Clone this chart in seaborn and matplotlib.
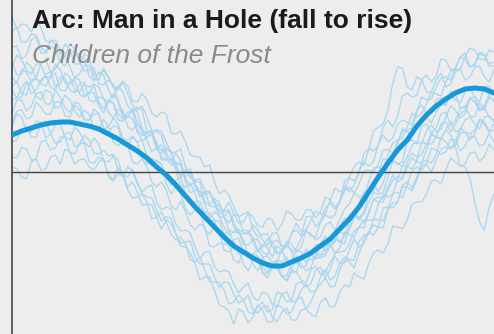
import numpy as np
import pandas as pd
import matplotlib
matplotlib.use("Agg")
import matplotlib.pyplot as plt
import seaborn as sns

title = "Arc: Man in a Hole (fall to rise)"
subtitle = "Children of the Frost"

# narrative position (percent of text)
arc_positions = list(range(0, 101, 2))
story_positions = list(range(0, 101))

# smoothed sentiment arc
arc_mean = [0.37, 0.41, 0.44, 0.47, 0.49, 0.50, 0.50, 0.48, 0.46, 0.43, 0.38,
            0.33, 0.27, 0.21, 0.14, 0.05, -0.03, -0.13, -0.24, -0.35, -0.45,
            -0.55, -0.65, -0.74, -0.80, -0.86, -0.91, -0.94, -0.94, -0.90, -0.86,
            -0.81, -0.74, -0.67, -0.57, -0.47, -0.35, -0.20, -0.05, 0.09, 0.22,
            0.32, 0.46, 0.57, 0.66, 0.73, 0.79, 0.83, 0.84, 0.83, 0.79]

# sentiment trajectories of the individual stories
story_a = [1.25, 1.26, 1.13, 1.17, 1.32, 1.36, 1.19, 1.19, 1.26, 1.23, 1.10, 1.06, 1.19, 1.21, 1.16, 1.14, 0.96, 0.91, 1.00, 0.97, 0.82, 0.74, 0.86, 0.80, 0.66, 0.61, 0.65, 0.62, 0.41, 0.38, 0.41, 0.37, 0.19, 0.11, 0.19, 0.11, -0.07, -0.14, -0.09, -0.10, -0.30, -0.33, -0.27, -0.30, -0.45, -0.51, -0.42, -0.44, -0.61, -0.62, -0.53, -0.58, -0.68, -0.74, -0.61, -0.61, -0.74, -0.74, -0.61, -0.58, -0.64, -0.45, -0.44, -0.55, -0.49, -0.36, -0.31, -0.37, -0.31, -0.09, -0.06, -0.09, -0.02, 0.18, 0.24, 0.21, 0.26, 0.45, 0.52, 0.45, 0.56, 0.76, 0.79, 0.75, 0.77, 0.92, 0.97, 0.90, 0.96, 1.13, 1.12, 1.02, 1.03, 1.15, 1.19, 1.05, 1.07, 1.18, 1.16, 1.06, 1.06]
story_b = [1.55, 1.43, 1.48, 1.47, 1.40, 1.51, 1.45, 1.31, 1.30, 1.32, 1.22, 1.15, 1.28, 1.23, 1.10, 1.01, 1.02, 1.04, 0.88, 0.87, 0.92, 0.88, 0.70, 0.55, 0.55, 0.63, 0.60, 0.43, 0.38, 0.42, 0.25, 0.15, 0.12, 0.13, 0.02, -0.14, -0.15, -0.11, -0.22, -0.36, -0.40, -0.41, -0.48, -0.64, -0.62, -0.59, -0.70, -0.82, -0.82, -0.80, -0.88, -0.85, -1.00, -1.06, -0.95, -0.96, -1.05, -1.08, -0.98, -0.85, -0.92, -0.99, -0.96, -0.82, -0.82, -0.83, -0.75, -0.67, -0.70, -0.72, -0.55, -0.44, -0.48, -0.42, -0.30, -0.21, -0.22, -0.21, -0.05, 0.11, 0.08, 0.06, 0.15, 0.27, 0.30, 0.28, 0.42, 0.47, 0.40, 0.43, 0.55, 0.66, 0.62, 0.54, 0.58, 0.74, 0.70, 0.64, 0.66, 0.74, 0.72]
story_c = [0.95, 0.89, 1.02, 1.00, 0.90, 0.94, 1.08, 1.13, 1.00, 1.03, 1.12, 1.16, 1.05, 0.94, 0.98, 1.07, 1.06, 0.93, 0.92, 1.04, 0.95, 0.85, 0.82, 0.90, 0.86, 0.71, 0.70, 0.79, 0.72, 0.59, 0.55, 0.60, 0.58, 0.39, 0.38, 0.41, 0.30, 0.17, 0.15, 0.15, 0.05, 0.07, -0.10, -0.22, -0.18, -0.23, -0.35, -0.45, -0.42, -0.40, -0.58, -0.65, -0.62, -0.62, -0.75, -0.82, -0.80, -0.73, -0.78, -0.92, -0.88, -0.77, -0.82, -0.87, -0.85, -0.74, -0.72, -0.81, -0.76, -0.60, -0.62, -0.65, -0.55, -0.48, -0.48, -0.48, -0.32, -0.23, -0.25, -0.22, -0.08, 0.06, 0.05, 0.03, 0.12, 0.30, 0.28, 0.28, 0.35, 0.48, 0.50, 0.40, 0.48, 0.58, 0.62, 0.74, 0.70, 0.61, 0.65, 0.78, 0.78]
story_d = [0.58, 0.72, 0.72, 0.61, 0.66, 0.78, 0.80, 0.68, 0.68, 0.82, 0.75, 0.64, 0.60, 0.70, 0.68, 0.53, 0.52, 0.63, 0.58, 0.44, 0.40, 0.46, 0.45, 0.27, 0.26, 0.35, 0.30, 0.13, 0.08, 0.14, 0.10, 0.08, -0.12, -0.22, -0.15, -0.22, -0.36, -0.43, -0.38, -0.38, -0.58, -0.62, -0.55, -0.60, -0.78, -0.80, -0.74, -0.77, -0.92, -0.99, -0.88, -0.87, -1.02, -1.01, -0.93, -0.94, -1.04, -1.04, -0.90, -0.84, -0.96, -0.94, -0.80, -0.79, -0.86, -0.84, -0.66, -0.62, -0.70, -0.64, -0.48, -0.40, -0.46, -0.40, -0.22, -0.11, -0.20, -0.11, 0.06, 0.12, 0.08, 0.10, 0.30, 0.32, 0.28, 0.46, 0.48, 0.39, 0.44, 0.58, 0.60, 0.46, 0.52, 0.63, 0.66, 0.56, 0.55, 0.69, 0.64, 0.55, 0.52]
story_e = [0.30, 0.32, 0.42, 0.45, 0.35, 0.35, 0.48, 0.51, 0.38, 0.29, 0.30, 0.38, 0.40, 0.25, 0.28, 0.37, 0.32, 0.19, 0.18, 0.22, 0.16, 0.18, 0.02, -0.05, 0.05, 0.01, -0.12, -0.20, -0.15, -0.13, -0.30, -0.38, -0.35, -0.37, -0.52, -0.59, -0.58, -0.61, -0.75, -0.87, -0.80, -0.80, -0.95, -1.00, -0.98, -1.00, -1.12, -1.21, -1.15, -1.11, -1.25, -1.29, -1.20, -1.22, -1.32, -1.35, -1.22, -1.20, -1.30, -1.29, -1.18, -1.12, -1.20, -1.19, -1.05, -0.97, -1.08, -1.04, -0.92, -0.85, -0.88, -0.88, -0.70, -0.63, -0.62, -0.47, -0.48, -0.49, -0.36, -0.22, -0.20, -0.26, -0.12, 0.01, 0.05, 0.02, 0.08, 0.24, 0.22, 0.18, 0.20, 0.33, 0.32, 0.21, 0.26, 0.36, 0.35, 0.26, 0.28, 0.39, 0.30]
story_f = [0.05, 0.03, -0.05, -0.07, 0.10, 0.13, 0.02, 0.03, 0.15, 0.17, 0.08, 0.23, 0.20, 0.08, 0.12, 0.13, 0.05, 0.02, 0.10, 0.13, -0.05, -0.09, -0.02, -0.03, -0.18, -0.26, -0.25, -0.22, -0.30, -0.47, -0.45, -0.40, -0.50, -0.62, -0.68, -0.65, -0.72, -0.88, -0.90, -0.85, -0.98, -1.10, -1.10, -1.10, -1.18, -1.32, -1.30, -1.23, -1.28, -1.40, -1.42, -1.33, -1.38, -1.50, -1.50, -1.33, -1.35, -1.42, -1.40, -1.28, -1.25, -1.37, -1.30, -1.18, -1.12, -1.06, -1.15, -1.14, -0.98, -0.88, -0.90, -0.96, -0.82, -0.67, -0.60, -0.63, -0.55, -0.36, -0.35, -0.36, -0.30, -0.13, -0.10, -0.16, -0.05, 0.09, 0.12, 0.09, 0.18, 0.34, 0.30, 0.24, 0.26, 0.39, 0.40, 0.32, 0.38, 0.51, 0.48, 0.40, 0.42]
story_g = [0.85, 0.91, 0.78, 0.77, 0.92, 0.94, 0.88, 0.86, 0.95, 0.99, 0.82, 0.81, 0.90, 0.91, 0.78, 0.75, 0.80, 0.79, 0.66, 0.59, 0.70, 0.69, 0.52, 0.51, 0.56, 0.53, 0.40, 0.31, 0.35, 0.38, 0.22, 0.18, 0.25, 0.19, 0.05, -0.05, 0.02, -0.01, -0.15, -0.23, -0.20, -0.19, -0.32, -0.42, -0.40, -0.38, -0.55, -0.61, -0.58, -0.59, -0.70, -0.80, -0.72, -0.76, -0.85, -0.74, -0.78, -0.90, -0.88, -0.78, -0.80, -0.91, -0.82, -0.73, -0.72, -0.79, -0.75, -0.59, -0.60, -0.62, -0.58, -0.45, -0.45, -0.51, -0.40, -0.28, -0.25, -0.26, -0.15, -0.03, -0.10, -0.07, 0.05, 0.14, 0.10, 0.09, 0.22, 0.37, 0.35, 0.34, 0.42, 0.37, 0.25, 0.06, 0.05, -0.06, -0.30, -0.50, -0.58, -0.35, -0.22]
story_h = [0.82, 0.74, 0.75, 0.89, 0.88, 0.76, 0.72, 0.82, 0.80, 0.64, 0.66, 0.77, 0.72, 0.61, 0.55, 0.62, 0.58, 0.43, 0.42, 0.53, 0.45, 0.30, 0.26, 0.31, 0.28, 0.10, 0.08, 0.13, 0.05, -0.10, -0.15, -0.10, -0.18, -0.34, -0.38, -0.29, -0.40, -0.53, -0.58, -0.52, -0.55, -0.74, -0.75, -0.71, -0.72, -0.72, -0.88, -0.91, -0.80, -0.80, -0.92, -0.99, -0.85, -0.84, -0.90, -0.89, -0.78, -0.70, -0.80, -0.76, -0.66, -0.58, -0.64, -0.65, -0.50, -0.43, -0.46, -0.43, -0.28, -0.14, -0.20, -0.13, 0.02, 0.10, 0.06, 0.10, 0.28, 0.37, 0.30, 0.34, 0.48, 0.52, 0.50, 0.47, 0.62, 0.67, 0.58, 0.59, 0.72, 0.74, 0.66, 0.81, 0.78, 0.64, 0.65, 0.74, 0.75, 0.63, 0.62, 0.76, 0.70]
story_i = [1.05, 1.17, 1.12, 1.02, 0.98, 1.08, 1.08, 0.95, 0.95, 1.08, 1.02, 0.89, 0.88, 0.94, 0.92, 0.77, 0.78, 0.88, 0.85, 0.73, 0.70, 0.78, 0.72, 0.58, 0.55, 0.63, 0.50, 0.39, 0.35, 0.38, 0.30, 0.12, 0.12, 0.13, 0.08, 0.07, -0.10, -0.21, -0.18, -0.19, -0.32, -0.46, -0.40, -0.44, -0.55, -0.63, -0.60, -0.57, -0.72, -0.73, -0.68, -0.67, -0.80, -0.83, -0.70, -0.68, -0.75, -0.75, -0.62, -0.51, -0.60, -0.58, -0.48, -0.39, -0.42, -0.42, -0.28, -0.16, -0.20, -0.18, -0.05, 0.06, 0.10, 0.07, 0.22, 0.41, 0.45, 0.48, 0.62, 0.89, 1.05, 1.04, 0.85, 0.82, 0.95, 0.92, 0.80, 0.80, 0.92, 0.99, 0.85, 0.88, 1.00, 1.03, 0.92, 0.95, 1.05, 1.06, 0.95, 0.90, 1.02]
story_j = [0.15, 0.14, 0.25, 0.23, 0.12, 0.13, 0.30, 0.32, 0.22, 0.24, 0.35, 0.35, 0.20, 0.18, 0.28, 0.29, 0.10, 0.09, 0.15, 0.12, -0.02, -0.08, 0.05, -0.02, -0.15, -0.10, -0.20, -0.33, -0.32, -0.33, -0.45, -0.57, -0.48, -0.51, -0.62, -0.71, -0.70, -0.69, -0.85, -0.92, -0.92, -0.92, -1.05, -1.16, -1.10, -1.11, -1.22, -1.31, -1.28, -1.23, -1.38, -1.41, -1.35, -1.34, -1.45, -1.50, -1.40, -1.36, -1.48, -1.48, -1.38, -1.37, -1.42, -1.45, -1.30, -1.26, -1.35, -1.34, -1.20, -1.13, -1.15, -1.01, -1.05, -1.07, -0.92, -0.81, -0.78, -0.81, -0.72, -0.54, -0.55, -0.57, -0.48, -0.32, -0.30, -0.30, -0.22, -0.09, -0.08, -0.12, 0.02, 0.14, 0.10, 0.06, 0.08, 0.19, 0.20, 0.11, 0.15, 0.28, 0.22]
story_k = [1.40, 1.45, 1.30, 1.30, 1.38, 1.37, 1.25, 1.20, 1.32, 1.28, 1.18, 1.28, 1.22, 1.08, 1.08, 1.18, 1.15, 0.97, 0.98, 1.01, 0.95, 0.85, 0.85, 0.91, 0.78, 0.67, 0.62, 0.66, 0.55, 0.41, 0.42, 0.41, 0.30, 0.19, 0.20, 0.23, 0.05, -0.06, -0.08, -0.07, -0.18, -0.34, -0.35, -0.32, -0.45, -0.58, -0.60, -0.61, -0.68, -0.84, -0.82, -0.77, -0.85, -0.96, -0.95, -0.88, -0.90, -0.85, -0.98, -1.00, -0.85, -0.83, -0.88, -0.86, -0.72, -0.64, -0.75, -0.70, -0.55, -0.46, -0.50, -0.45, -0.32, -0.20, -0.20, -0.20, -0.02, 0.13, 0.12, 0.18, 0.30, 0.41, 0.42, 0.44, 0.60, 0.75, 0.72, 0.73, 0.85, 0.94, 0.95, 0.92, 1.05, 1.15, 1.12, 1.05, 1.08, 1.20, 1.18, 1.08, 1.10]
story_l = [0.45, 0.58, 0.55, 0.41, 0.40, 0.51, 0.50, 0.34, 0.38, 0.47, 0.48, 0.35, 0.32, 0.45, 0.40, 0.30, 0.25, 0.34, 0.28, 0.11, 0.10, 0.16, 0.12, -0.03, -0.05, 0.03, -0.10, -0.22, -0.25, -0.26, -0.38, -0.49, -0.45, -0.46, -0.62, -0.74, -0.75, -0.81, -0.92, -1.08, -1.05, -1.05, -1.18, -1.33, -1.35, -1.39, -1.52, -1.37, -1.40, -1.51, -1.45, -1.34, -1.30, -1.40, -1.38, -1.20, -1.22, -1.30, -1.28, -1.12, -1.10, -1.15, -1.12, -0.98, -0.95, -1.06, -0.98, -0.81, -0.80, -0.79, -0.72, -0.59, -0.55, -0.56, -0.42, -0.27, -0.30, -0.30, -0.18, -0.08, -0.05, -0.06, 0.10, 0.19, 0.15, 0.17, 0.28, 0.39, 0.35, 0.33, 0.42, 0.51, 0.40, 0.42, 0.52, 0.55, 0.48, 0.43, 0.55, 0.56, 0.50]
story_m = [0.72, 0.74, 0.85, 0.91, 0.78, 0.82, 0.92, 0.96, 0.85, 0.82, 0.95, 0.94, 0.82, 0.79, 0.88, 0.90, 0.72, 0.70, 0.75, 0.74, 0.60, 0.54, 0.62, 0.62, 0.45, 0.42, 0.48, 0.43, 0.32, 0.20, 0.25, 0.27, 0.15, 0.07, 0.10, 0.08, -0.05, 0.01, -0.12, -0.25, -0.22, -0.21, -0.28, -0.39, -0.38, -0.30, -0.42, -0.51, -0.50, -0.41, -0.45, -0.54, -0.55, -0.46, -0.48, -0.59, -0.52, -0.39, -0.42, -0.48, -0.48, -0.38, -0.38, -0.46, -0.40, -0.25, -0.28, -0.35, -0.30, -0.19, -0.15, -0.21, -0.12, 0.01, 0.02, 0.00, 0.08, 0.22, 0.22, 0.19, 0.28, 0.44, 0.40, 0.39, 0.45, 0.55, 0.55, 0.49, 0.60, 0.67, 0.68, 0.78, 0.72, 0.69, 0.80, 0.84, 0.75, 0.70, 0.85, 0.86, 0.78]
story_n = [0.50, 0.61, 0.62, 0.53, 0.55, 0.70, 0.65, 0.58, 0.58, 0.70, 0.70, 0.56, 0.55, 0.67, 0.62, 0.52, 0.52, 0.58, 0.58, 0.43, 0.45, 0.54, 0.48, 0.34, 0.32, 0.36, 0.30, 0.32, 0.15, 0.06, 0.12, 0.08, -0.05, -0.13, -0.08, -0.05, -0.22, -0.31, -0.30, -0.29, -0.42, -0.49, -0.48, -0.49, -0.62, -0.74, -0.68, -0.66, -0.80, -0.84, -0.82, -0.84, -0.95, -1.01, -0.92, -0.90, -1.05, -1.09, -1.00, -1.00, -1.08, -1.11, -0.98, -0.94, -1.02, -1.01, -0.90, -0.84, -0.92, -0.91, -0.78, -0.67, -0.75, -0.72, -0.60, -0.53, -0.55, -0.56, -0.38, -0.31, -0.30, -0.15, -0.15, -0.19, -0.08, 0.06, 0.08, 0.00, 0.12, 0.23, 0.25, 0.23, 0.30, 0.44, 0.40, 0.38, 0.42, 0.53, 0.50, 0.41, 0.48]
story_o = [1.10, 0.97, 0.98, 1.10, 1.05, 0.93, 0.90, 0.98, 1.00, 0.85, 0.88, 0.99, 0.95, 0.82, 0.80, 0.88, 0.85, 0.87, 0.70, 0.63, 0.72, 0.69, 0.58, 0.53, 0.60, 0.61, 0.42, 0.36, 0.40, 0.41, 0.28, 0.21, 0.22, 0.21, 0.08, -0.04, 0.02, 0.03, -0.12, -0.20, -0.22, -0.21, -0.30, -0.45, -0.45, -0.39, -0.50, -0.62, -0.62, -0.60, -0.65, -0.78, -0.75, -0.67, -0.70, -0.80, -0.80, -0.69, -0.72, -0.80, -0.75, -0.59, -0.62, -0.68, -0.65, -0.53, -0.50, -0.58, -0.48, -0.37, -0.32, -0.21, -0.25, -0.25, -0.10, 0.04, 0.05, 0.02, 0.18, 0.29, 0.32, 0.34, 0.45, 0.59, 0.55, 0.59, 0.68, 0.80, 0.78, 0.76, 0.90, 1.01, 1.02, 1.03, 1.15, 1.24, 1.22, 1.13, 1.12, 1.22, 1.20]

stories = {
    "a": story_a, "b": story_b, "c": story_c, "d": story_d, "e": story_e,
    "f": story_f, "g": story_g, "h": story_h, "i": story_i, "j": story_j,
    "k": story_k, "l": story_l, "m": story_m, "n": story_n, "o": story_o,
}

long = pd.concat(
    [pd.DataFrame({"pos": story_positions, "val": vals, "story": name})
     for name, vals in stories.items()],
    ignore_index=True,
)
arc = pd.DataFrame({"pos": arc_positions, "val": arc_mean})

sns.set_theme(style="white")
plt.rcParams["font.family"] = ["Liberation Sans", "DejaVu Sans"]

bg = "#ededed"
fig = plt.figure(figsize=(4.94, 3.34), dpi=100, facecolor=bg)
ax = fig.add_axes([12 / 494, 0, 482 / 494, 1], facecolor=bg)

sns.lineplot(data=long, x="pos", y="val", units="story", estimator=None,
             color="#a6d6f1", linewidth=0.9, ax=ax, legend=False)
ax.axhline(0, color="#444444", linewidth=1.0, zorder=3)
sns.lineplot(data=arc, x="pos", y="val", color="#1798d8", linewidth=3.6,
             ax=ax, legend=False, zorder=4)

ax.set_xlim(0, 100)
ax.set_ylim(-1.62, 1.72)
ax.set_xticks([])
ax.set_yticks([])
ax.set_xlabel("")
ax.set_ylabel("")
for side in ("top", "right", "bottom"):
    ax.spines[side].set_visible(False)
ax.spines["left"].set_color("#444444")
ax.spines["left"].set_linewidth(1.2)

fig.text(32 / 494, 1 - 28 / 334, title, ha="left", va="baseline",
         fontsize=19, fontweight="bold", color="#1a1a1a")
fig.text(32 / 494, 1 - 63 / 334, subtitle, ha="left", va="baseline",
         fontsize=19, style="italic", color="#8a8a8a")

fig.savefig("out.png", dpi=100, facecolor=bg)
